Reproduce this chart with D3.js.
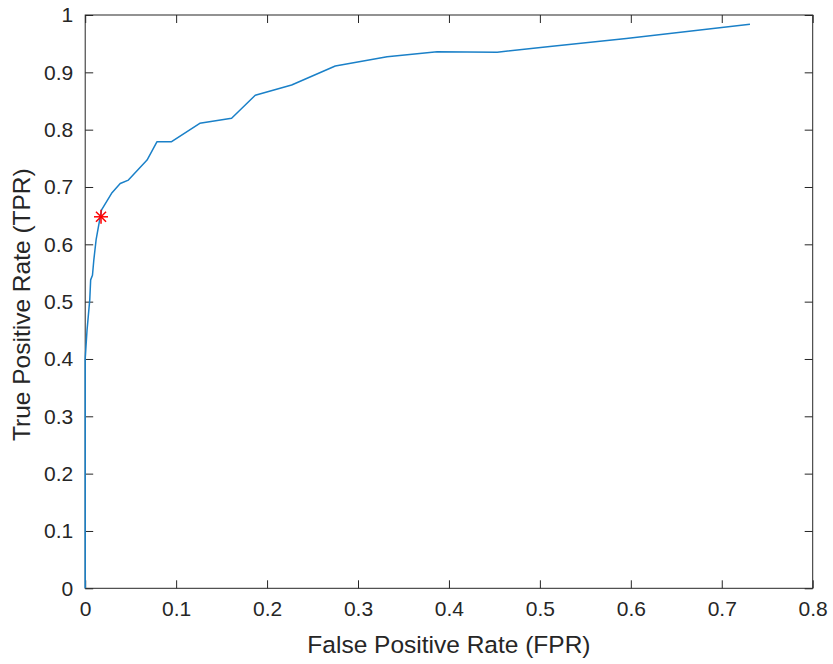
<!DOCTYPE html>
<html>
<head>
<meta charset="utf-8">
<script src="https://cdn.jsdelivr.net/npm/d3@7"></script>
<style>
  html, body { margin: 0; padding: 0; background: #fff; }
  svg { display: block; }
  .axis text { font-family: 'Liberation Sans', Arial, sans-serif; font-size: 21px; fill: #262626; }
  .axis path, .axis line { stroke: #262626; stroke-width: 1; }
  .label { font-family: 'Liberation Sans', Arial, sans-serif; font-size: 24.5px; fill: #262626; }
</style>
</head>
<body>
<svg width="833" height="664"></svg>
<script>
// ROC curve points
const fpr = [0, 0, 0.002, 0.005, 0.006, 0.008, 0.0095, 0.012, 0.0165, 0.018, 0.029, 0.0385,
  0.0475, 0.068, 0.079, 0.095, 0.126, 0.161, 0.187, 0.227, 0.275, 0.332, 0.387, 0.453,
  0.511, 0.595, 0.731]
const tpr = [0, 0.40, 0.45, 0.503, 0.538, 0.546, 0.573, 0.608, 0.648, 0.660, 0.689, 0.706,
  0.712, 0.747, 0.779, 0.779, 0.811, 0.820, 0.860, 0.878, 0.911, 0.927, 0.936, 0.935,
  0.945, 0.959, 0.984]
// operating point (red star)
const opFpr = [0.0174]
const opTpr = [0.648]

const xTicks = [0, 0.1, 0.2, 0.3, 0.4, 0.5, 0.6, 0.7, 0.8]
const yTicks = [0, 0.1, 0.2, 0.3, 0.4, 0.5, 0.6, 0.7, 0.8, 0.9, 1]

const svg = d3.select('svg')
const plotLeft = 85.2
const plotRight = 812.7
const plotTop = 15
const plotBottom = 588.3

const x = d3.scaleLinear().domain([0, 0.8]).range([plotLeft, plotRight])
const y = d3.scaleLinear().domain([0, 1]).range([plotBottom, plotTop])
const fmt = d => String(d)

// box
svg.append('rect')
  .attr('x', plotLeft).attr('y', plotTop)
  .attr('width', plotRight - plotLeft).attr('height', plotBottom - plotTop)
  .attr('fill', 'none').attr('stroke', '#262626').attr('stroke-width', 1)

// bottom axis (ticks inside)
svg.append('g')
  .attr('class', 'axis')
  .attr('transform', 'translate(0,' + plotBottom + ')')
  .call(d3.axisBottom(x).tickValues(xTicks).tickFormat(fmt).tickSizeInner(-8).tickSizeOuter(0).tickPadding(13))
  .call(g => g.select('.domain').remove())

// top mirror ticks
svg.append('g')
  .attr('class', 'axis')
  .attr('transform', 'translate(0,' + plotTop + ')')
  .call(d3.axisTop(x).tickValues(xTicks).tickFormat('').tickSizeInner(-8).tickSizeOuter(0))
  .call(g => g.select('.domain').remove())

// left axis
svg.append('g')
  .attr('class', 'axis')
  .attr('transform', 'translate(' + plotLeft + ',0)')
  .call(d3.axisLeft(y).tickValues(yTicks).tickFormat(fmt).tickSizeInner(-8).tickSizeOuter(0).tickPadding(12))
  .call(g => g.select('.domain').remove())

// right mirror ticks
svg.append('g')
  .attr('class', 'axis')
  .attr('transform', 'translate(' + plotRight + ',0)')
  .call(d3.axisRight(y).tickValues(yTicks).tickFormat('').tickSizeInner(-8).tickSizeOuter(0))
  .call(g => g.select('.domain').remove())

// ROC line
const pts = fpr.map((d, i) => [d, tpr[i]])
svg.append('path')
  .datum(pts)
  .attr('fill', 'none')
  .attr('stroke', '#1a80c8')
  .attr('stroke-width', 1.5)
  .attr('stroke-linejoin', 'round')
  .attr('d', d3.line().x(d => x(d[0])).y(d => y(d[1])))

// star marker
const star = svg.append('g')
  .selectAll('g')
  .data(opFpr.map((d, i) => [d, opTpr[i]]))
  .enter().append('g')
  .attr('transform', d => 'translate(' + x(d[0]) + ',' + y(d[1]) + ')')
const r = 7
const arms = [[0, -r, 0, r], [-r, 0, r, 0], [-r * 0.72, -r * 0.72, r * 0.72, r * 0.72], [-r * 0.72, r * 0.72, r * 0.72, -r * 0.72]]
arms.forEach(a => {
  star.append('line')
    .attr('x1', a[0]).attr('y1', a[1]).attr('x2', a[2]).attr('y2', a[3])
    .attr('stroke', '#ff0000').attr('stroke-width', 1.5)
})

// axis labels
svg.append('text')
  .attr('class', 'label')
  .attr('x', (plotLeft + plotRight) / 2)
  .attr('y', 653)
  .attr('text-anchor', 'middle')
  .text('False Positive Rate (FPR)')

svg.append('text')
  .attr('class', 'label')
  .attr('transform', 'translate(30,' + ((plotTop + plotBottom) / 2 + 3) + ') rotate(-90)')
  .attr('text-anchor', 'middle')
  .text('True Positive Rate (TPR)')
</script>
</body>
</html>
